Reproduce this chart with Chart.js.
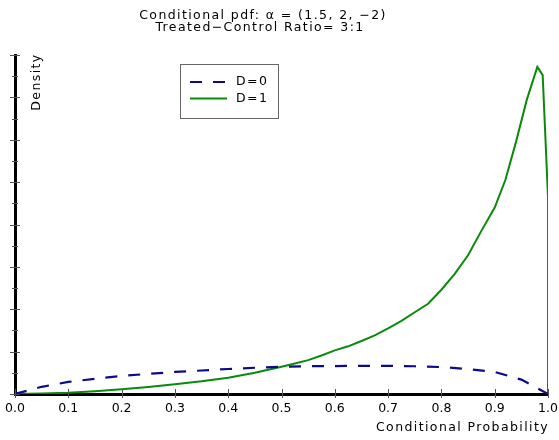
<!DOCTYPE html>
<html><head><meta charset="utf-8">
<script src="https://cdn.jsdelivr.net/npm/chart.js@4"></script>
<style>html,body{margin:0;padding:0;background:#fff}canvas{display:block}</style>
</head><body>
<canvas id="c" width="559" height="440"></canvas>
<script>
// ---- data ----
const probD0 = [0, 0.05, 0.1, 0.15, 0.2, 0.25, 0.3, 0.35, 0.4, 0.45, 0.5, 0.55, 0.6, 0.65, 0.7, 0.75, 0.8, 0.85, 0.9, 0.95, 1.0];
const densityD0 = [0, 0.34, 0.57, 0.72, 0.85, 0.95, 1.04, 1.11, 1.18, 1.24, 1.29, 1.31, 1.32, 1.33, 1.33, 1.31, 1.27, 1.18, 1.04, 0.68, 0];
const probD1 = [0, 0.05, 0.1, 0.15, 0.2, 0.25, 0.3, 0.35, 0.4, 0.45, 0.5, 0.525, 0.55, 0.575, 0.6, 0.625, 0.65, 0.675, 0.7, 0.725, 0.75, 0.775, 0.8, 0.825, 0.85, 0.875, 0.9, 0.92, 0.94, 0.96, 0.98, 0.99, 1.0, 1.0];
const densityD1 = [0, 0.02, 0.06, 0.13, 0.22, 0.33, 0.46, 0.6, 0.77, 1.0, 1.29, 1.44, 1.6, 1.82, 2.06, 2.25, 2.5, 2.77, 3.1, 3.45, 3.86, 4.26, 4.92, 5.67, 6.55, 7.7, 8.8, 10.1, 11.9, 13.87, 15.44, 15.05, 9.31, 0];
const xTickValues = [0, 0.1, 0.2, 0.3, 0.4, 0.5, 0.6, 0.7, 0.8, 0.9, 1.0];
const xTickLabels = ['0.0', '0.1', '0.2', '0.3', '0.4', '0.5', '0.6', '0.7', '0.8', '0.9', '1.0'];
const yTickValues = [0, 1, 2, 3, 4, 5, 6, 7, 8, 9, 10, 11, 12, 13, 14, 15, 16];
const seriesLabels = ['D=0', 'D=1'];
const titleLines = ['Conditional pdf: \u03b1 = (1.5, 2, \u22122)', 'Treated\u2212Control Ratio= 3:1'];
const xAxisTitle = 'Conditional Probability';
const yAxisTitle = 'Density';

const FONT = '"DejaVu Sans", sans-serif';
const FSIZE = 12.5;
const SPACING = '1.4px';
const toPts = (xs, ys) => xs.map((x, i) => ({x: x, y: ys[i]}));

const decor = {
  id: 'decor',
  afterDraw(chart) {
    const ctx = chart.ctx, a = chart.chartArea;
    const xs = chart.scales.x, ys = chart.scales.y;
    ctx.save();
    // x tick marks crossing the axis
    ctx.strokeStyle = '#555'; ctx.lineWidth = 1;
    xTickValues.forEach(v => {
      const px = Math.round(xs.getPixelForValue(v)) + 0.5;
      ctx.beginPath(); ctx.moveTo(px, a.bottom - 5); ctx.lineTo(px, a.bottom + 4); ctx.stroke();
    });
    // y tick marks (major even, minor odd)
    yTickValues.forEach(v => {
      const py = Math.round(ys.getPixelForValue(v)) + 0.5;
      const major = v % 2 === 0;
      ctx.beginPath();
      ctx.moveTo(a.left - (major ? 5 : 3), py);
      ctx.lineTo(a.left + (major ? 5 : 3), py);
      ctx.stroke();
    });
    // texts with wide letter spacing
    ctx.letterSpacing = SPACING;
    ctx.fillStyle = '#000';
    ctx.font = FSIZE + 'px ' + FONT;
    ctx.textAlign = 'center'; ctx.textBaseline = 'middle';
    ctx.fillText(titleLines[0], 263, 16);
    ctx.fillText(titleLines[1], 260, 28);
    // x axis title, right-aligned at the axis end
    ctx.textAlign = 'right';
    ctx.fillText(xAxisTitle, a.right + 1, 428);
    // y axis title
    ctx.textAlign = 'center';
    ctx.save();
    ctx.translate(37, 82); ctx.rotate(-Math.PI / 2);
    ctx.fillText(yAxisTitle, 0, 0);
    ctx.restore();
    // legend
    ctx.strokeStyle = '#666'; ctx.lineWidth = 1;
    ctx.strokeRect(180.5, 64.5, 98, 54);
    chart.data.datasets.forEach((ds, i) => {
      const y = 82 + i * 16.5;
      ctx.strokeStyle = ds.borderColor; ctx.lineWidth = ds.borderWidth;
      ctx.setLineDash(ds.borderDash || []);
      ctx.beginPath(); ctx.moveTo(190, y); ctx.lineTo(227, y); ctx.stroke();
      ctx.setLineDash([]);
      ctx.fillStyle = '#000'; ctx.textAlign = 'left';
      ctx.fillText(ds.label, 236, y);
    });
    ctx.restore();
  }
};

new Chart(document.getElementById('c'), {
  type: 'line',
  data: {
    datasets: [
      {label: seriesLabels[0], data: toPts(probD0, densityD0), borderColor: '#0a0a8a', borderWidth: 2.2, borderDash: [12, 11], pointRadius: 0, tension: 0, fill: false},
      {label: seriesLabels[1], data: toPts(probD1, densityD1), borderColor: '#0a8a0a', borderWidth: 2, pointRadius: 0, tension: 0, fill: false}
    ]
  },
  options: {
    responsive: false, animation: false,
    layout: {padding: {left: 15, right: 11, top: 55, bottom: 21}},
    plugins: {legend: {display: false}, title: {display: false}, tooltip: {enabled: false}},
    scales: {
      x: {
        type: 'linear', min: 0, max: 1,
        afterBuildTicks: s => { s.ticks = xTickValues.map(v => ({value: v})); },
        afterFit: s => { s.paddingRight = 0; s.paddingLeft = 0; },
        ticks: {callback: (v) => xTickLabels[Math.round(v * 10)], color: '#000', font: {family: FONT, size: FSIZE}, padding: 3, maxRotation: 0, autoSkip: false},
        grid: {display: true, drawOnChartArea: false, drawTicks: true, tickLength: 4, color: 'rgba(0,0,0,0)'},
        border: {display: true, color: '#000', width: 3}
      },
      y: {
        type: 'linear', min: 0, max: 16,
        afterBuildTicks: s => { s.ticks = yTickValues.map(v => ({value: v})); },
        ticks: {display: false},
        grid: {display: false, drawOnChartArea: false, drawTicks: false},
        border: {display: true, color: '#000', width: 3}
      }
    }
  },
  plugins: [decor]
});
</script>
</body></html>
